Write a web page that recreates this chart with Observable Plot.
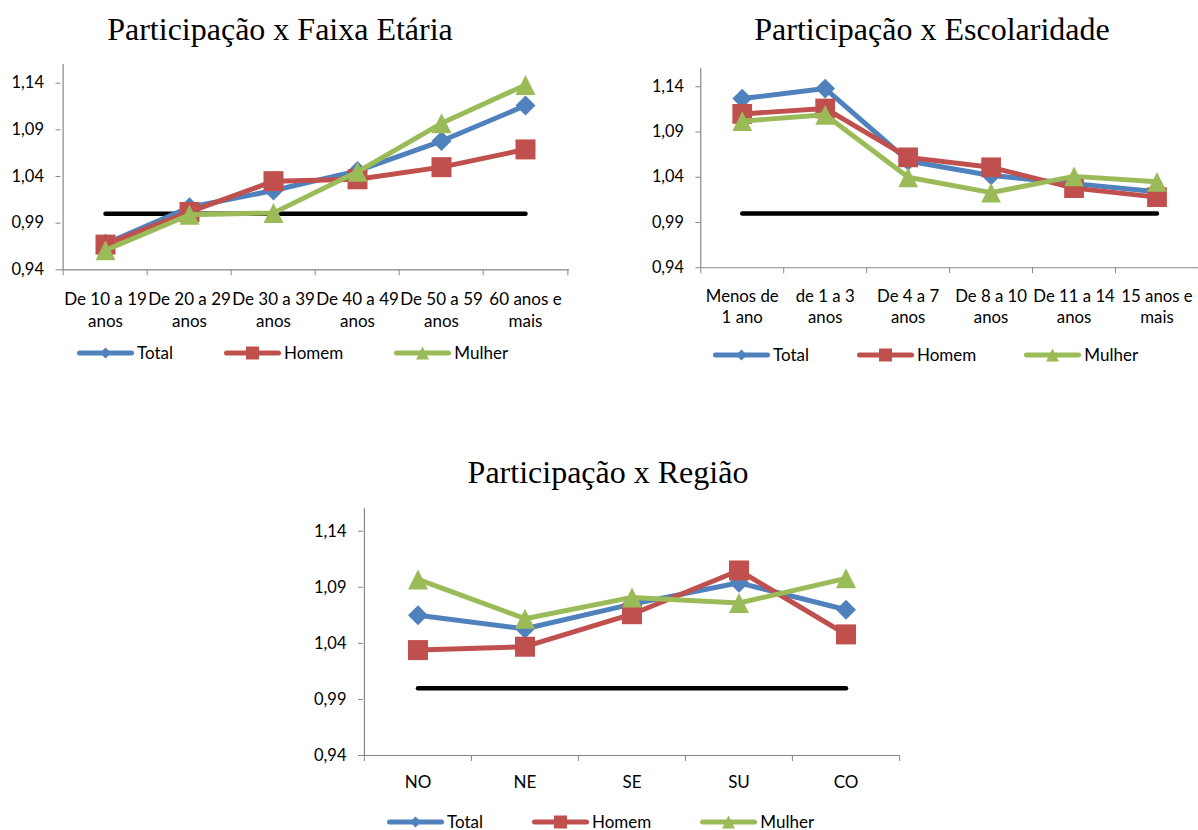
<!DOCTYPE html>
<html>
<head>
<meta charset="utf-8">
<script src="https://cdn.jsdelivr.net/npm/d3@7"></script>
<script src="https://cdn.jsdelivr.net/npm/@observablehq/plot@0.6"></script>
<style>
  html, body { margin: 0; padding: 0; background: #fff; }
  body { position: relative; width: 1198px; height: 830px; overflow: hidden; font-family: Lato, "Open Sans", sans-serif; color: #000; }
  .title { position: absolute; font-family: "Liberation Serif", "Times New Roman", serif; font-size: 32px; line-height: 32px; white-space: nowrap; transform: translateX(-50%); color: #000; }
  .chart { position: absolute; }
  .chart svg { overflow: visible; }
  .legend { position: absolute; display: flex; align-items: center; font-size: 17px; line-height: 20px; white-space: nowrap; }
  .legend .item { display: flex; align-items: center; }
  .legend svg { display: block; margin-right: 3px; }
</style>
</head>
<body>
<script>
// Marker shapes: half-extent equals the dot radius, so r = 10 gives a 20px marker
const radiusOf = (size) => Math.sqrt(size / Math.PI);
const diamondMarker = {draw(ctx, size) { const r = radiusOf(size); ctx.moveTo(0, -r); ctx.lineTo(r, 0); ctx.lineTo(0, r); ctx.lineTo(-r, 0); ctx.closePath(); }};
const squareMarker = {draw(ctx, size) { const r = radiusOf(size); ctx.moveTo(-r, -r); ctx.lineTo(r, -r); ctx.lineTo(r, r); ctx.lineTo(-r, r); ctx.closePath(); }};
const triangleMarker = {draw(ctx, size) { const r = radiusOf(size); ctx.moveTo(0, -r); ctx.lineTo(r, r); ctx.lineTo(-r, r); ctx.closePath(); }};

// Series shared by the three panels
const series = ["Total", "Homem", "Mulher"];
const seriesColors = ["#4F81BD", "#C0504D", "#9BBB59"];
const seriesSymbols = [diamondMarker, squareMarker, triangleMarker];
const markerRadius = [10, 10, 10];
const legendRadius = [5.5, 6.5, 6.5];

// Reference level (participação = 1)
const referencia = 1;

// Y axis (shared)
const yDomain = [0.94, 1.16];
const yTicks = [0.94, 0.99, 1.04, 1.09, 1.14];

// Panel 1: Participação x Faixa Etária
const faixaCategorias = ["De 10 a 19 anos", "De 20 a 29 anos", "De 30 a 39 anos", "De 40 a 49 anos", "De 50 a 59 anos", "60 anos e mais"];
const faixaRotulos = ["De 10 a 19\nanos", "De 20 a 29\nanos", "De 30 a 39\nanos", "De 40 a 49\nanos", "De 50 a 59\nanos", "60 anos e\nmais"];
const faixaTotal = [0.968, 1.007, 1.025, 1.046, 1.078, 1.116];
const faixaHomem = [0.967, 1.002, 1.035, 1.037, 1.050, 1.069];
const faixaMulher = [0.961, 0.999, 1.001, 1.045, 1.097, 1.138];

// Panel 2: Participação x Escolaridade
const escolCategorias = ["Menos de 1 ano", "de 1 a 3 anos", "De 4 a 7 anos", "De 8 a 10 anos", "De 11 a 14 anos", "15 anos e mais"];
const escolRotulos = ["Menos de\n1 ano", "de 1 a 3\nanos", "De 4 a 7\nanos", "De 8 a 10\nanos", "De 11 a 14\nanos", "15 anos e\nmais"];
const escolTotal = [1.127, 1.138, 1.058, 1.042, 1.033, 1.024];
const escolHomem = [1.110, 1.116, 1.062, 1.051, 1.028, 1.018];
const escolMulher = [1.102, 1.109, 1.040, 1.023, 1.041, 1.035];

// Panel 3: Participação x Região
const regiaoCategorias = ["NO", "NE", "SE", "SU", "CO"];
const regiaoRotulos = ["NO", "NE", "SE", "SU", "CO"];
const regiaoTotal = [1.065, 1.053, 1.075, 1.094, 1.070];
const regiaoHomem = [1.034, 1.037, 1.066, 1.105, 1.048];
const regiaoMulher = [1.097, 1.062, 1.081, 1.076, 1.098];

const fmt = (v) => d3.format(".2f")(v).replace(".", ",");

function addTitle(text, cx, top) {
  const div = document.createElement("div");
  div.className = "title";
  div.textContent = text;
  div.style.left = cx + "px";
  div.style.top = top + "px";
  document.body.appendChild(div);
}

function addLegend(left, cy, gap) {
  const div = document.createElement("div");
  div.className = "legend";
  div.style.left = left + "px";
  div.style.top = (cy - 10) + "px";
  div.style.gap = gap + "px";
  series.forEach((name, i) => {
    const item = document.createElement("div");
    item.className = "item";
    const svg = d3.create("svg").attr("width", 57).attr("height", 20);
    svg.append("line").attr("x1", 2.5).attr("x2", 54.5).attr("y1", 10).attr("y2", 10)
      .attr("stroke", seriesColors[i]).attr("stroke-width", 5).attr("stroke-linecap", "round");
    svg.append("path").attr("transform", "translate(28.5,10)")
      .attr("d", d3.symbol(seriesSymbols[i], Math.PI * legendRadius[i] ** 2)())
      .attr("fill", seriesColors[i]);
    item.appendChild(svg.node());
    const label = document.createElement("span");
    label.textContent = name;
    item.appendChild(label);
    div.appendChild(item);
  });
  document.body.appendChild(div);
}

function addChart(cfg) {
  const {categorias, rotulos, valores, left, top, width, height, ml, mr, mt, mb, labelPad} = cfg;
  const bw = (width - ml - mr) / categorias.length;
  const rotuloDe = new Map(categorias.map((c, i) => [c, rotulos[i]]));
  const linhaRef = categorias.map((c) => ({cat: c, value: referencia}));

  const marks = [
    // axes
    Plot.ruleY([yDomain[0]], {stroke: "#868686", strokeWidth: 1.2}),
    Plot.ruleX([categorias[0]], {dx: -bw / 2, stroke: "#868686", strokeWidth: 1.2}),
    Plot.axisY(yTicks, {tickSize: 5, tickPadding: 12, tickFormat: fmt, stroke: "#868686", fill: "#000", fontSize: 16.5, label: null}),
    Plot.axisX(categorias, {tickSize: 6, tickFormat: () => "", dx: -bw / 2, stroke: "#868686", label: null}),
    Plot.axisX([categorias[categorias.length - 1]], {tickSize: 6, tickFormat: () => "", dx: bw / 2, stroke: "#868686", label: null}),
    Plot.axisX(categorias, {tickSize: 0, tickPadding: labelPad, tickFormat: (d) => rotuloDe.get(d), fill: "#000", fontSize: 17, lineHeight: 1.28, label: null}),
    // reference line at 1
    Plot.line(linhaRef, {x: "cat", y: "value", stroke: "#000", strokeWidth: 4.5, strokeLinecap: "round"})
  ];

  series.forEach((s, i) => {
    const dados = categorias.map((c, j) => ({cat: c, value: valores[i][j]}));
    marks.push(Plot.line(dados, {x: "cat", y: "value", stroke: seriesColors[i], strokeWidth: 5, strokeLinejoin: "round"}));
    marks.push(Plot.dot(dados, {x: "cat", y: "value", symbol: seriesSymbols[i], r: markerRadius[i], fill: seriesColors[i], stroke: "none"}));
  });

  const plot = Plot.plot({
    width, height,
    marginLeft: ml, marginRight: mr, marginTop: mt, marginBottom: mb,
    style: {fontFamily: "Lato, 'Open Sans', sans-serif", background: "transparent", color: "#000", overflow: "visible"},
    x: {type: "band", domain: categorias, padding: 0},
    y: {domain: yDomain},
    marks
  });
  const wrap = document.createElement("div");
  wrap.className = "chart";
  wrap.style.left = left + "px";
  wrap.style.top = top + "px";
  wrap.appendChild(plot);
  document.body.appendChild(wrap);
}

// Panel 1
addTitle("Participação x Faixa Etária", 280, 13);
addChart({
  categorias: faixaCategorias, rotulos: faixaRotulos,
  valores: [faixaTotal, faixaHomem, faixaMulher],
  left: 0, top: 50, width: 600, height: 280,
  ml: 60.5, mr: 31, mt: 14, mb: 60.7, labelPad: 20
});
addLegend(77, 353, 51);

// Panel 2
addTitle("Participação x Escolaridade", 932, 13);
addChart({
  categorias: escolCategorias, rotulos: escolRotulos,
  valores: [escolTotal, escolHomem, escolMulher],
  left: 640, top: 50, width: 565, height: 280,
  ml: 61, mr: 0, mt: 18.4, mb: 60, labelPad: 19
});
addLegend(713, 355, 48);

// Panel 3
addTitle("Participação x Região", 608, 456);
addChart({
  categorias: regiaoCategorias, rotulos: regiaoRotulos,
  valores: [regiaoTotal, regiaoHomem, regiaoMulher],
  left: 300, top: 495, width: 599, height: 300,
  ml: 63, mr: 0, mt: 13.3, mb: 40, labelPad: 17
});
addLegend(387, 822, 49);
</script>
</body>
</html>
